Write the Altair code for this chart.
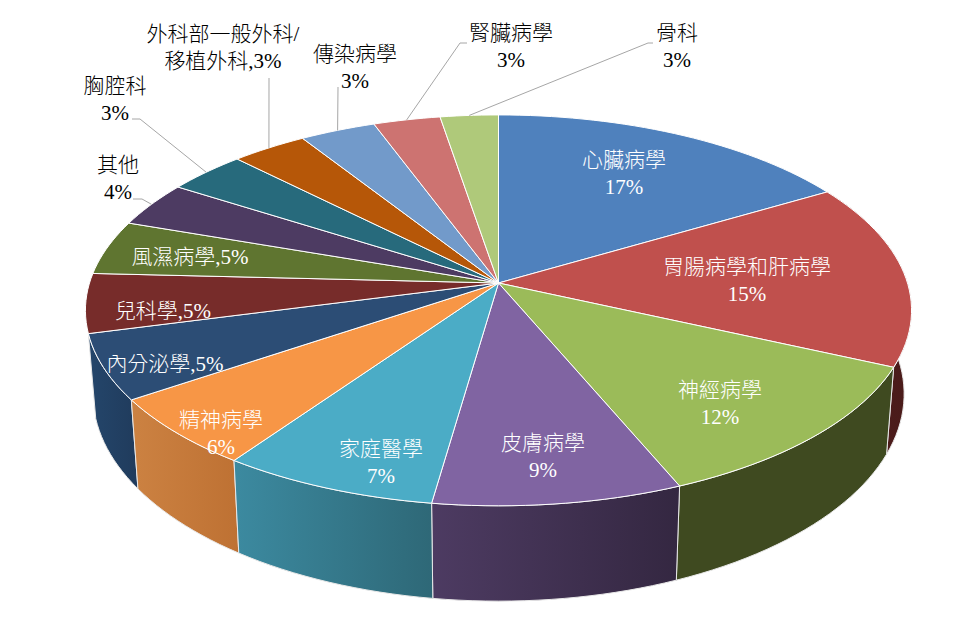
import math
import altair as alt
import pandas as pd

# ---- chart values -------------------------------------------------------
names = ["心臟病學", "胃腸病學和肝病學", "神經病學", "皮膚病學", "家庭醫學", "精神病學",
         "內分泌學", "兒科學", "風濕病學", "其他", "胸腔科", "外科部一般外科/移植外科",
         "傳染病學", "腎臟病學", "骨科"]
shares = [16.5, 15.3, 11.9, 8.55, 7.45, 5.8, 5.4, 4.9, 4.5, 3.75, 3.55, 3.4, 3.4, 3.0, 2.6]
top_colors = ["#4F81BD", "#C0504D", "#9BBB59", "#8064A2", "#4BACC6", "#F79646",
              "#2C4D75", "#772C2A", "#5F7530", "#4D3B62", "#276A7C", "#B65708",
              "#729ACA", "#CD7371", "#AFC97A"]
wall_left = {1: "#4F1D1C", 2: "#3F4A20", 3: "#4D3B62", 4: "#3C8AA0", 5: "#CC8242", 6: "#24466B"}
wall_right = {1: "#4A1B1A", 2: "#3F4A20", 3: "#342741", 4: "#2E6877", 5: "#BE7133", 6: "#203B5C"}

label_text = [["心臟病學", "17%"], ["胃腸病學和肝病學", "15%"], ["神經病學", "12%"],
              ["皮膚病學", "9%"], ["家庭醫學", "7%"], ["精神病學", "6%"],
              ["內分泌學,5%"], ["兒科學,5%"], ["風濕病學,5%"], ["其他", "4%"],
              ["胸腔科", "3%"], ["外科部一般外科/", "移植外科,3%"], ["傳染病學", "3%"],
              ["腎臟病學", "3%"], ["骨科", "3%"]]
label_x = [624, 747, 720, 543, 381, 221, 165, 163, 190, 118, 115, 223, 355, 511, 677]
label_y = [161, 268, 391, 444, 450, 421, 365, 312, 258, 166, 87, 35, 55, 34, 34]
label_white = [True] * 9 + [False] * 6
leader_x = {9: [133, 142], 10: [132, 140], 11: [269], 12: [338], 13: [467, 460], 14: [653, 648]}
leader_y = {9: [199, 199], 10: [119, 119], 11: [78], 12: [87], 13: [43, 43], 14: [43, 43]}

# ---- perspective pie geometry ------------------------------------------
CX, CY, RX, RY, K = 498.5, 283.0, 409.0, 191.6, 0.14
def top(theta):
    sx, cy = math.sin(theta), math.cos(theta)
    d = 1 + K * cy
    return CX + RX * sx / d, CY - RY * cy / d
def bottom(theta):
    x, y = top(theta)
    return CX + (x - CX) * 0.982, 1.06 * y + 65

edges = [0.0]
for s in shares:
    edges.append(edges[-1] + s)
total = edges[-1]
def angle(v):
    return 2 * math.pi * v / total
def sweep(a, b):
    n = max(2, int((b - a) * 2) + 2)
    return [angle(a + (b - a) * i / n) for i in range(n + 1)]

X = alt.X("x:Q", axis=None, scale=alt.Scale(domain=[8, 952], nice=False, zero=False))
Y = alt.Y("y:Q", axis=None, scale=alt.Scale(domain=[626, 8], nice=False, zero=False))

def poly(pts, fill, stroke="white", sw=1.0):
    df = pd.DataFrame({"x": [p[0] for p in pts], "y": [p[1] for p in pts], "o": range(len(pts))})
    return alt.Chart(df).mark_line(fill=fill, stroke=stroke, strokeWidth=sw, interpolate="linear").encode(
        x=X, y=Y, order="o:Q")

layers = []
# side wall, back to front
for i in [1, 6, 2, 5, 3, 4]:
    a, b = edges[i], edges[i + 1]
    th = sweep(a, b)
    pts = [top(t) for t in th] + [bottom(t) for t in reversed(th)]
    pts.append(pts[0])
    grad = alt.LinearGradient(gradient="linear", x1=0, x2=1, y1=0, y2=0,
                              stops=[alt.GradientStop(offset=0, color=wall_left[i]),
                                     alt.GradientStop(offset=1, color=wall_right[i])])
    layers.append(poly(pts, grad, stroke="#E8E8E8", sw=1.0))
# top surface
for i, c in enumerate(top_colors):
    pts = [(CX, CY)] + [top(t) for t in sweep(edges[i], edges[i + 1])] + [(CX, CY)]
    layers.append(poly(pts, c))

# leader lines, ending on the slice rim
for i in leader_x:
    t = angle((edges[i] + edges[i + 1]) / 2)
    ex, ey = top(t)
    df = pd.DataFrame({"x": leader_x[i] + [ex], "y": leader_y[i] + [ey], "o": range(len(leader_x[i]) + 1)})
    layers.append(alt.Chart(df).mark_line(stroke="#A6A6A6", strokeWidth=1).encode(x=X, y=Y, order="o:Q"))

# labels
rows = []
for i, lines in enumerate(label_text):
    for j, line in enumerate(lines):
        rows.append({"x": label_x[i], "y": label_y[i] + j * 27, "t": line,
                     "c": "white" if label_white[i] else "black"})
labels = alt.Chart(pd.DataFrame(rows)).mark_text(
    font="Liberation Serif, Noto Sans CJK TC", fontSize=21, fontWeight=300,
    align="center", baseline="middle"
).encode(x=X, y=Y, text="t:N", color=alt.Color("c:N", scale=None))
layers.append(labels)

chart = alt.layer(*layers).properties(width=944, height=618, padding=0).configure_view(stroke=None)
chart.save("out.html", embed_options={"renderer": "svg", "actions": False})
